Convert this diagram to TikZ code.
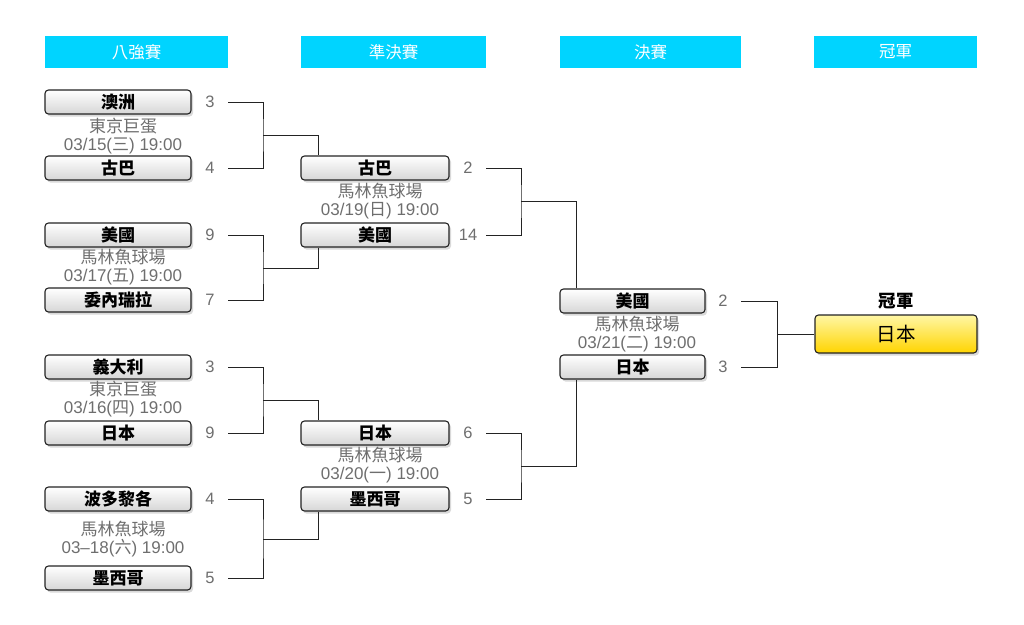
\documentclass[tikz,border=0pt]{standalone}
\usepackage{fontspec}
\setmainfont{Liberation Sans}
\newfontfamily\cjk{Noto Sans CJK TC}
\usetikzlibrary{shadows}

\definecolor{headcyan}{RGB}{0,212,255}
\definecolor{scoregray}{RGB}{110,110,110}
\definecolor{linegray}{RGB}{35,35,35}
\definecolor{goldtop}{RGB}{255,247,165}
\definecolor{goldbot}{RGB}{255,212,0}

\tikzset{
	header/.style={fill=headcyan, text=white, minimum height=32, inner sep=0pt, font=\cjk\fontsize{16.5}{18}\selectfont},
	team/.style={draw=linegray, line width=1.1pt, rounded corners=3.5pt, top color=white, bottom color=gray!32,
		minimum width=146, minimum height=24, inner sep=0pt, font=\cjk\bfseries\fontsize{17}{18}\selectfont,
		drop shadow={shadow xshift=2pt, shadow yshift=-2.5pt, opacity=0.3}},
	champ/.style={team, top color=goldtop, bottom color=goldbot, minimum width=162, minimum height=38, font=\cjk\fontsize{19.5}{21}\selectfont},
	score/.style={text=scoregray, minimum width=36, inner sep=0pt, font=\fontsize{16.5}{18}\selectfont},
	venue/.style={text=scoregray, align=center, inner sep=0pt, font=\fontsize{17}{18}\selectfont},
	bracket/.style={draw=linegray, line width=1pt}
}

\begin{document}
\begin{tikzpicture}[x=1pt, y=-1pt]
	\useasboundingbox (0,0) rectangle (1024,624);

	% headers
	\node (h1) at (136.5, 52) [header, minimum width=183] {八強賽};
	\node (h2) at (393.5, 52) [header, minimum width=185] {準決賽};
	\node (h3) at (650.5, 52) [header, minimum width=181] {決賽};
	\node (h4) at (895.5, 52) [header, minimum width=163] {冠軍};

	% quarter finals
	\node (q1) at (118, 102) [team] {澳洲};
	\node (q2) at (118, 168) [team] {古巴};
	\node (q3) at (118, 235) [team] {美國};
	\node (q4) at (118, 300) [team] {委內瑞拉};
	\node (q5) at (118, 367) [team] {義大利};
	\node (q6) at (118, 433) [team] {日本};
	\node (q7) at (118, 499) [team] {波多黎各};
	\node (q8) at (118, 578) [team] {墨西哥};

	\node (q1s) at (210, 102) [score] {3};
	\node (q2s) at (210, 168) [score] {4};
	\node (q3s) at (210, 235) [score] {9};
	\node (q4s) at (210, 300) [score] {7};
	\node (q5s) at (210, 367) [score] {3};
	\node (q6s) at (210, 433) [score] {9};
	\node (q7s) at (210, 499) [score] {4};
	\node (q8s) at (210, 578) [score] {5};

	\node (v1) at (123, 136) [venue] {{\cjk 東京巨蛋}\\03/15({\cjk 三}) 19:00};
	\node (v2) at (123, 267) [venue] {{\cjk 馬林魚球場}\\03/17({\cjk 五}) 19:00};
	\node (v3) at (123, 399) [venue] {{\cjk 東京巨蛋}\\03/16({\cjk 四}) 19:00};
	\node (v4) at (123, 539) [venue] {{\cjk 馬林魚球場}\\03--18({\cjk 六}) 19:00};

	% semi finals
	\node (s1) at (375, 168) [team, minimum width=148] {古巴};
	\node (s2) at (375, 235) [team, minimum width=148] {美國};
	\node (s3) at (375, 433) [team, minimum width=148] {日本};
	\node (s4) at (375, 499) [team, minimum width=148] {墨西哥};

	\node (s1s) at (468, 168) [score] {2};
	\node (s2s) at (468, 235) [score] {14};
	\node (s3s) at (468, 433) [score] {6};
	\node (s4s) at (468, 499) [score] {5};

	\node (v5) at (380, 201) [venue] {{\cjk 馬林魚球場}\\03/19({\cjk 日}) 19:00};
	\node (v6) at (380, 465) [venue] {{\cjk 馬林魚球場}\\03/20({\cjk 一}) 19:00};

	% final
	\node (f1) at (632.5, 301) [team, minimum width=145] {美國};
	\node (f2) at (632.5, 367) [team, minimum width=145] {日本};

	\node (f1s) at (723, 301) [score] {2};
	\node (f2s) at (723, 367) [score] {3};

	\node (v7) at (637, 334) [venue] {{\cjk 馬林魚球場}\\03/21({\cjk 二}) 19:00};

	% champion
	\node (c) at (896, 301) [font=\cjk\bfseries\fontsize{17.5}{19}\selectfont] {冠軍};
	\node (w) at (896, 334) [champ] {日本};

	% bracket lines
	\coordinate (j1) at (263, 135);
	\coordinate (j2) at (263, 268);
	\coordinate (j3) at (263, 400);
	\coordinate (j4) at (263, 539);
	\coordinate (j5) at (521, 201);
	\coordinate (j6) at (521, 466);
	\coordinate (j7) at (777, 334);

	\path[bracket]
		(q1s.east) -| (j1) |- (q2s.east)
		(q3s.east) -| (j2) |- (q4s.east)
		(q5s.east) -| (j3) |- (q6s.east)
		(q7s.east) -| (j4) |- (q8s.east)
		(s1s.east) -| (j5) |- (s2s.east)
		(s3s.east) -| (j6) |- (s4s.east)
		(f1s.east) -| (j7) |- (f2s.east);
	\path[bracket]
		(j1) -| ([xshift=18pt]s1.north west)
		(j2) -| ([xshift=18pt]s2.south west)
		(j3) -| ([xshift=18pt]s3.north west)
		(j4) -| ([xshift=18pt]s4.south west)
		(j5) -| ([xshift=17pt]f1.north west)
		(j6) -| ([xshift=17pt]f2.south west)
		(j7) -- (w.west);

\end{tikzpicture}
\end{document}
